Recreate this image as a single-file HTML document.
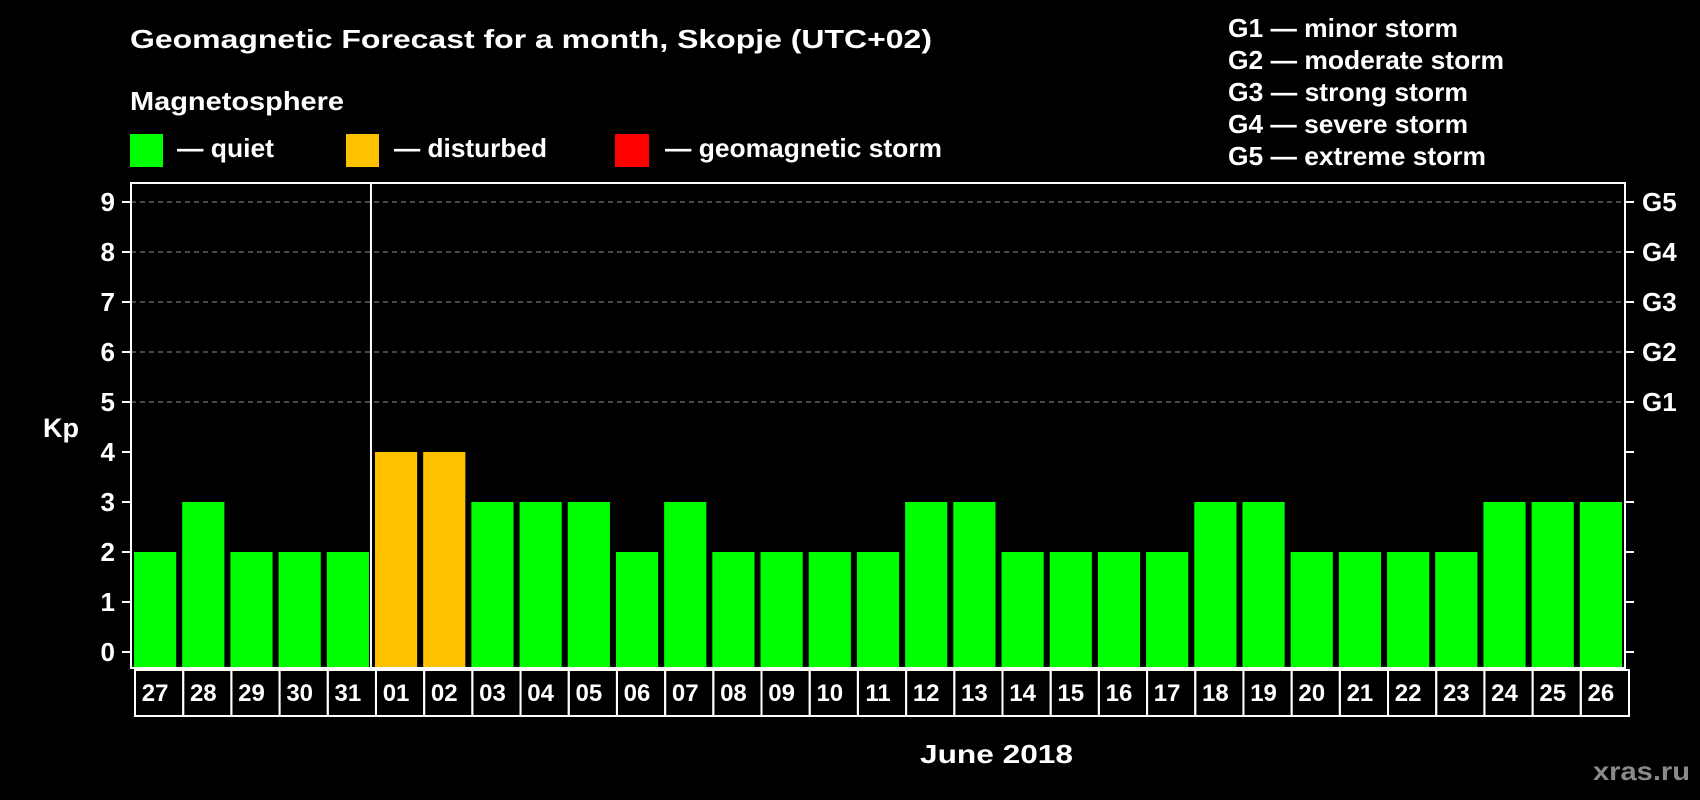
<!DOCTYPE html>
<html><head><meta charset="utf-8"><style>
html,body{margin:0;padding:0;background:#000;}
svg{display:block;font-family:"Liberation Sans",sans-serif;font-weight:bold;}
</style></head><body>
<svg id="chart" width="1700" height="800" viewBox="0 0 1700 800" xmlns="http://www.w3.org/2000/svg">
<rect width="1700" height="800" fill="#000"/>
<text x="130" y="48" fill="#fff" font-size="26" textLength="802" lengthAdjust="spacingAndGlyphs">Geomagnetic Forecast for a month, Skopje (UTC+02)</text>
<text x="130" y="110" fill="#fff" font-size="26" textLength="214" lengthAdjust="spacingAndGlyphs">Magnetosphere</text>
<g>
<rect x="130" y="134" width="33" height="33" fill="#00ff00"/>
<text x="177" y="157" fill="#fff" font-size="26" textLength="97" lengthAdjust="spacingAndGlyphs">— quiet</text></g>
<g>
<rect x="346" y="134" width="33" height="33" fill="#ffc000"/>
<text x="394" y="157" fill="#fff" font-size="26" textLength="153" lengthAdjust="spacingAndGlyphs">— disturbed</text></g>
<g>
<rect x="615" y="134" width="34" height="33" fill="#ff0000"/>
<text x="665" y="157" fill="#fff" font-size="26" textLength="277" lengthAdjust="spacingAndGlyphs">— geomagnetic storm</text></g>
<g fill="#fff" font-size="26">
<text x="1228" y="37" textLength="230" lengthAdjust="spacingAndGlyphs">G1 — minor storm</text>
<text x="1228" y="69" textLength="276" lengthAdjust="spacingAndGlyphs">G2 — moderate storm</text>
<text x="1228" y="101" textLength="240" lengthAdjust="spacingAndGlyphs">G3 — strong storm</text>
<text x="1228" y="133" textLength="240" lengthAdjust="spacingAndGlyphs">G4 — severe storm</text>
<text x="1228" y="165" textLength="258" lengthAdjust="spacingAndGlyphs">G5 — extreme storm</text>
</g>
<text x="43" y="437" fill="#fff" font-size="27">Kp</text>
<text x="920" y="763" fill="#fff" font-size="26" textLength="153" lengthAdjust="spacingAndGlyphs">June 2018</text>
<text x="1593" y="780" fill="#8a8a8a" font-size="26" textLength="97" lengthAdjust="spacingAndGlyphs">xras.ru</text>
<g id="plot"></g>
</svg>
<script>
const categories = ["27","28","29","30","31","01","02","03","04","05","06","07","08","09","10","11","12","13","14","15","16","17","18","19","20","21","22","23","24","25","26"];
const kpValues = [2,3,2,2,2,4,4,3,3,3,2,3,2,2,2,2,3,3,2,2,2,2,3,3,2,2,2,2,3,3,3];
const yTicks = [0,1,2,3,4,5,6,7,8,9];
const gridTicks = [5,6,7,8,9];
const gLabels = ["G1","G2","G3","G4","G5"];
const monthStartIndex = 5;

const NS = "http://www.w3.org/2000/svg";
const L = 131, R = 1625, T = 183, B = 668;
const pitch = (R - L) / categories.length;
const bw = pitch * 0.875;
function yScale(v){ return 652 - 50 * v; }
function xCenter(i){ return L + pitch * (i + 0.5); }
function mk(tag, attrs){ const e = document.createElementNS(NS, tag); for (const k in attrs) e.setAttribute(k, attrs[k]); return e; }
const g = document.getElementById('plot');

gridTicks.forEach(v => {
  const ln = mk('line', {x1:L, x2:R, y1:yScale(v), y2:yScale(v), stroke:'#8c8c8c', 'stroke-width':1, 'stroke-dasharray':'5,4'});
  
  
  g.appendChild(ln);
});
kpValues.forEach((v, i) => {
  const color = v >= 5 ? '#ff0000' : (v >= 4 ? '#ffc000' : '#00ff00');
  const r = mk('rect', {x:xCenter(i) - bw/2, y:yScale(v), width:bw, height:B - yScale(v), fill:color});
  
  
  g.appendChild(r);
});
yTicks.forEach(v => {
  const t = mk('line', {x1:L - 9, x2:L, y1:yScale(v), y2:yScale(v), stroke:'#fff', 'stroke-width':2});
  
  
  g.appendChild(t);
  const t2 = mk('line', {x1:R, x2:R + 9, y1:yScale(v), y2:yScale(v), stroke:'#fff', 'stroke-width':2});
  
  
  g.appendChild(t2);
  const lb = mk('text', {x:115, y:yScale(v) + 9, fill:'#fff', 'font-size':26, 'text-anchor':'end'});
  lb.textContent = v;
  
  
  g.appendChild(lb);
});
gLabels.forEach((s, i) => {
  const lb = mk('text', {x:1642, y:yScale(5 + i) + 9, fill:'#fff', 'font-size':26});
  lb.textContent = s;
  
  
  g.appendChild(lb);
});
const frame = mk('rect', {x:L, y:T, width:R - L, height:B - T, fill:'none', stroke:'#fff', 'stroke-width':2});


g.appendChild(frame);
const sepX = L + pitch * monthStartIndex - 1;
const sep = mk('line', {x1:sepX, x2:sepX, y1:T, y2:B, stroke:'#fff', 'stroke-width':2});


g.appendChild(sep);
categories.forEach((c, i) => {
  const bx = xCenter(i) - pitch/2;
  const box = mk('rect', {x:bx + 4, y:670, width:pitch, height:46, fill:'none', stroke:'#fff', 'stroke-width':2});
  
  
  g.appendChild(box);
  const t = mk('text', {x:xCenter(i), y:701, fill:'#fff', 'font-size':24, 'text-anchor':'middle'});
  t.textContent = c;
  
  
  g.appendChild(t);
});
</script>
</body></html>
